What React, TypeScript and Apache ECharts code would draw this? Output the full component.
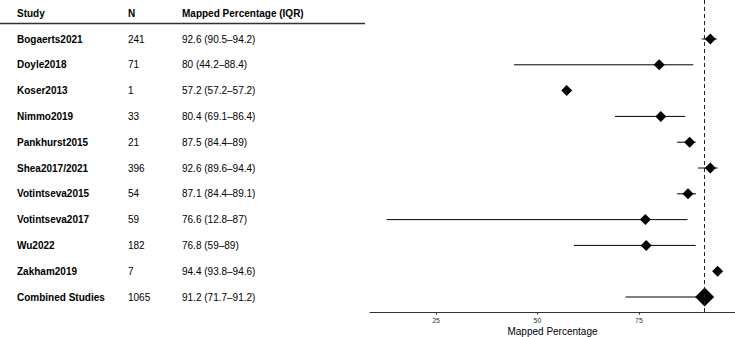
import React, { useEffect, useRef } from "react";
import * as echarts from "echarts";

// Study-level mapping results (median and interquartile range)
const studies = [
  "Bogaerts2021",
  "Doyle2018",
  "Koser2013",
  "Nimmo2019",
  "Pankhurst2015",
  "Shea2017/2021",
  "Votintseva2015",
  "Votintseva2017",
  "Wu2022",
  "Zakham2019",
  "Combined Studies",
];
const sampleSizes = [241, 71, 1, 33, 21, 396, 54, 59, 182, 7, 1065];
const medians = [92.6, 80, 57.2, 80.4, 87.5, 92.6, 87.1, 76.6, 76.8, 94.4, 91.2];
const lowerIQR = [90.5, 44.2, 57.2, 69.1, 84.4, 89.6, 84.4, 12.8, 59, 93.8, 71.7];
const upperIQR = [94.2, 88.4, 57.2, 86.4, 89, 94.4, 89.1, 87, 89, 94.6, 91.2];
const headers = ["Study", "N", "Mapped Percentage (IQR)"];
const xTicks = [25, 50, 75];

const COMBINED = "Combined Studies";
const FONT = '"Liberation Sans", Arial, Helvetica, sans-serif';

export default function App() {
  const ref = useRef<HTMLDivElement>(null);

  useEffect(() => {
    if (!ref.current) return;
    const chart = echarts.init(ref.current, undefined, { renderer: "svg" });

    // row 0 is the table header; studies follow from row 1
    const rows = studies.map((s, i) => ({
      row: i + 1,
      study: s,
      n: String(sampleSizes[i]),
      pct: `${medians[i]} (${lowerIQR[i]}–${upperIQR[i]})`,
    }));

    const combinedIdx = studies.indexOf(COMBINED);
    const pooled = medians[combinedIdx];

    const xMin = 8.71;
    const xMax = 98.69;
    const yMin = -0.512;
    const yMax = 11.608;

    // table column anchors in pixels of the table grid
    const colStudy = 17;
    const colN = 128;
    const colPct = 182;

    const tableData = [
      { value: [0, 0], texts: headers, bold: [true, true, true] },
      ...rows.map((r) => ({
        value: [0, r.row],
        texts: [r.study, r.n, r.pct],
        bold: [true, false, false],
      })),
    ];

    const option: any = {
      animation: false,
      backgroundColor: "#ffffff",
      textStyle: { fontFamily: FONT },
      grid: [
        { left: 370, right: 0, top: 0, bottom: 24.3, outerBoundsMode: "none", containLabel: false },
        { left: 0, width: 370, top: 0, bottom: 24.3, outerBoundsMode: "none", containLabel: false },
      ],
      xAxis: [
        {
          type: "value",
          gridIndex: 0,
          min: xMin,
          max: xMax,
          splitLine: { show: false },
          axisLine: { show: true, onZero: false, lineStyle: { color: "#333", width: 1 } },
          axisTick: {
            show: true,
            length: 2,
            customValues: xTicks,
            lineStyle: { color: "#333", width: 1 },
          },
          axisLabel: {
            show: true,
            customValues: xTicks,
            fontSize: 7,
            color: "#333",
            margin: 4,
            fontFamily: FONT,
          },
          name: "Mapped Percentage",
          nameLocation: "middle",
          nameGap: 13,
          nameMoveOverlap: false,
          nameTextStyle: { fontSize: 10, color: "#000", fontFamily: FONT, lineHeight: 11 },
        },
        {
          type: "value",
          gridIndex: 1,
          min: 0,
          max: 370,
          show: false,
        },
      ],
      yAxis: [
        { type: "value", gridIndex: 0, min: yMin, max: yMax, inverse: true, show: false },
        { type: "value", gridIndex: 1, min: yMin, max: yMax, inverse: true, show: false },
      ],
      graphic: [
        {
          type: "line",
          shape: { x1: 0, y1: 23.5, x2: 365, y2: 23.5 },
          style: { stroke: "#333", lineWidth: 1.5 },
          silent: true,
        },
      ],
      series: [
        {
          type: "custom",
          name: "iqr",
          xAxisIndex: 0,
          yAxisIndex: 0,
          silent: true,
          encode: { x: [0, 1], y: 2 },
          data: rows.map((r, i) => [lowerIQR[i], upperIQR[i], r.row]),
          renderItem: (_params: any, api: any) => {
            const a = api.coord([api.value(0), api.value(2)]);
            const b = api.coord([api.value(1), api.value(2)]);
            return {
              type: "line",
              shape: { x1: a[0], y1: a[1], x2: b[0], y2: b[1] },
              style: { stroke: "#000", lineWidth: 1 },
            };
          },
          z: 2,
        },
        {
          type: "scatter",
          name: "median",
          xAxisIndex: 0,
          yAxisIndex: 0,
          silent: true,
          symbol: "diamond",
          symbolSize: (_v: any, p: any) => (p.name === COMBINED ? 19 : 11),
          itemStyle: { color: "#000", opacity: 1 },
          data: rows.map((r, i) => ({ name: r.study, value: [medians[i], r.row] })),
          markLine: {
            silent: true,
            symbol: "none",
            label: { show: false },
            lineStyle: { color: "#222", width: 1, type: [4, 3] },
            data: [{ xAxis: pooled }],
          },
          z: 3,
        },
        {
          type: "custom",
          name: "table",
          xAxisIndex: 1,
          yAxisIndex: 1,
          silent: true,
          encode: { x: 0, y: 1 },
          data: tableData,
          renderItem: (params: any, api: any) => {
            const item = tableData[params.dataIndex];
            const y = api.coord([0, api.value(1)])[1];
            const cols = [colStudy, colN, colPct];
            return {
              type: "group",
              children: item.texts.map((t, k) => ({
                type: "text",
                x: api.coord([cols[k], 0])[0],
                y,
                style: {
                  text: t,
                  fill: "#000",
                  font: `${item.bold[k] ? "bold " : ""}10px ${FONT}`,
                  textAlign: "left",
                  textVerticalAlign: "middle",
                },
              })),
            };
          },
        },
      ],
    };

    chart.setOption(option);
    return () => chart.dispose();
  }, []);

  return (
    <div
      ref={ref}
      style={{ position: "fixed", left: 0, top: 0, width: 735, height: 337, background: "#fff" }}
    />
  );
}
